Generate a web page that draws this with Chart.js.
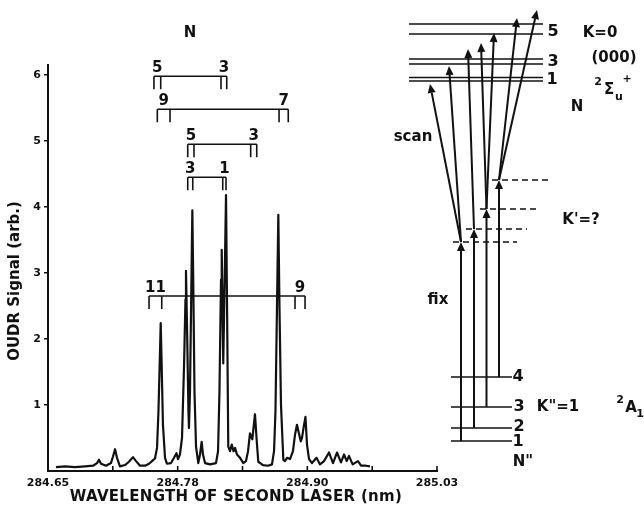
<!DOCTYPE html>
<html>
<head>
<meta charset="utf-8">
<script src="https://cdn.jsdelivr.net/npm/chart.js@4.4.1/dist/chart.umd.min.js"></script>
<style>
  html, body { margin: 0; padding: 0; background: #fff; }
</style>
</head>
<body>
<canvas id="chart" width="644" height="513"></canvas>
<script>
// OUDR spectrum: wavelength (nm) vs signal (arb.)
var wavelength = [
  284.6578, 284.6666, 284.6764, 284.6861, 284.6940, 284.6979, 284.6998, 284.7018, 284.7067, 284.7115,
  284.7135, 284.7155, 284.7174, 284.7203, 284.7252, 284.7291, 284.7330, 284.7360, 284.7399, 284.7448,
  284.7487, 284.7516, 284.7545, 284.7565, 284.7579, 284.7594, 284.7601, 284.7609, 284.7623, 284.7643,
  284.7662, 284.7702, 284.7731, 284.7755, 284.7770, 284.7789, 284.7809, 284.7829, 284.7843, 284.7848,
  284.7858, 284.7872, 284.7877, 284.7887, 284.7902, 284.7910, 284.7918, 284.7931, 284.7946, 284.7968,
  284.7985, 284.8001, 284.8014, 284.8034, 284.8083, 284.8141, 284.8161, 284.8175, 284.8190, 284.8197,
  284.8212, 284.8229, 284.8239, 284.8249, 284.8261, 284.8278, 284.8295, 284.8312, 284.8327, 284.8346,
  284.8376, 284.8408, 284.8434, 284.8454, 284.8473, 284.8496, 284.8522, 284.8537, 284.8554, 284.8600,
  284.8649, 284.8688, 284.8708, 284.8722, 284.8737, 284.8750, 284.8761, 284.8776, 284.8799, 284.8815,
  284.8835, 284.8864, 284.8893, 284.8913, 284.8932, 284.8947, 284.8969, 284.8981, 284.8996, 284.9015,
  284.9030, 284.9050, 284.9079, 284.9123, 284.9157, 284.9196, 284.9245, 284.9284, 284.9323, 284.9362,
  284.9392, 284.9418, 284.9440, 284.9476, 284.9528, 284.9558, 284.9606, 284.9645
];
var signal = [
  0.06, 0.07, 0.06, 0.07, 0.08, 0.12, 0.17, 0.11, 0.08, 0.12,
  0.22, 0.33, 0.20, 0.07, 0.09, 0.14, 0.21, 0.15, 0.08, 0.08,
  0.11, 0.15, 0.19, 0.35, 0.90, 1.80, 2.24, 1.70, 0.70, 0.20,
  0.11, 0.12, 0.20, 0.27, 0.18, 0.25, 0.50, 1.60, 2.60, 3.03,
  2.20, 0.90, 0.65, 1.20, 3.00, 3.95, 3.00, 1.20, 0.37, 0.12,
  0.25, 0.44, 0.25, 0.12, 0.10, 0.12, 0.30, 1.20, 2.90, 3.35,
  1.63, 3.20, 4.18, 2.50, 0.37, 0.30, 0.40, 0.30, 0.35, 0.25,
  0.20, 0.12, 0.15, 0.30, 0.57, 0.48, 0.86, 0.50, 0.14, 0.09,
  0.08, 0.10, 0.30, 0.90, 2.50, 3.88, 2.50, 1.00, 0.17, 0.15,
  0.20, 0.18, 0.30, 0.55, 0.70, 0.60, 0.45, 0.50, 0.65, 0.82,
  0.40, 0.18, 0.12, 0.20, 0.10, 0.15, 0.28, 0.12, 0.28, 0.13,
  0.25, 0.15, 0.23, 0.10, 0.15, 0.08, 0.08, 0.07
];

// axis ticks (the printed labels are rounded)
var xTickValues = [284.65, 284.7133, 284.7767, 284.84, 284.9033, 284.9667, 285.03];
var xTickLabels = ['284.65', '', '284.78', '', '284.90', '', '285.03'];
var yTickValues = [1, 2, 3, 4, 5, 6];

// N assignment combs: signal level of the bar, line positions (nm), end labels
var combLevels = [5.98, 5.48, 4.95, 4.45, 2.65];
var combLines = [
  [284.7535, 284.7601, 284.8190, 284.8246],
  [284.7568, 284.7692, 284.8757, 284.8847],
  [284.7865, 284.7926, 284.8480, 284.8539],
  [284.7865, 284.7914, 284.8207, 284.8239],
  [284.7487, 284.7611, 284.8913, 284.9011]
];
var combLabels = [['5', '3'], ['9', '7'], ['5', '3'], ['3', '1'], ['11', '9']];

var xTitle = 'WAVELENGTH OF SECOND LASER (nm)';
var yTitle = 'OUDR Signal (arb.)';

var INK = '#111';
var FONT = '"DejaVu Sans", sans-serif';

function boldFont(size) { return 'bold ' + size + 'px ' + FONT; }

function seg(ctx, x1, y1, x2, y2) {
  ctx.beginPath(); ctx.moveTo(x1, y1); ctx.lineTo(x2, y2); ctx.stroke();
}

function arrow(ctx, x1, y1, x2, y2) {
  var a = Math.atan2(y2 - y1, x2 - x1);
  var len = 9, half = 4;
  var bx = x2 - len * Math.cos(a), by = y2 - len * Math.sin(a);
  seg(ctx, x1, y1, bx, by);
  ctx.beginPath();
  ctx.moveTo(x2, y2);
  ctx.lineTo(bx + half * Math.sin(a), by - half * Math.cos(a));
  ctx.lineTo(bx - half * Math.sin(a), by + half * Math.cos(a));
  ctx.closePath();
  ctx.fill();
}

// combs, inward ticks, axis titles and the "N" heading over the spectrum
var combPlugin = {
  id: 'combs',
  afterDatasetsDraw: function (chart) {
    var xs = chart.scales.x, ys = chart.scales.y, ctx = chart.ctx;
    ctx.save();
    ctx.strokeStyle = INK; ctx.fillStyle = INK; ctx.lineWidth = 1.6;
    xTickValues.slice(1).forEach(function (v) {
      var px = xs.getPixelForValue(v);
      seg(ctx, px, ys.bottom, px, ys.bottom - 5);
    });
    ctx.font = boldFont(15);
    ctx.textAlign = 'center';
    ctx.textBaseline = 'alphabetic';
    combLevels.forEach(function (lev, i) {
      var py = ys.getPixelForValue(lev);
      var px = combLines[i].map(function (v) { return xs.getPixelForValue(v); });
      seg(ctx, px[0], py, px[3], py);
      px.forEach(function (p) { seg(ctx, p, py, p, py + 13); });
      ctx.fillText(combLabels[i][0], (px[0] + px[1]) / 2, py - 4);
      ctx.fillText(combLabels[i][1], (px[2] + px[3]) / 2, py - 4);
    });
    ctx.textBaseline = 'middle';
    ctx.fillText('N', xs.getPixelForValue(284.7887), ys.getPixelForValue(6.64));

    // axis titles, placed a little off-centre as in the print
    ctx.letterSpacing = '0.3px';
    ctx.fillText(xTitle, xs.left + 188, 497);
    ctx.letterSpacing = '0px';
    ctx.translate(15, 281);
    ctx.rotate(-Math.PI / 2);
    ctx.fillText(yTitle, 0, 0);
    ctx.restore();
  }
};

// energy level scheme drawn to the right of the plot
var diagramPlugin = {
  id: 'levels',
  afterDraw: function (chart) {
    var ctx = chart.ctx;
    ctx.save();
    ctx.strokeStyle = INK; ctx.fillStyle = INK;

    // upper state levels N = 5, 3, 1 (doublets)
    ctx.lineWidth = 1.5;
    [24, 34, 59, 64, 77.5, 81].forEach(function (y) { seg(ctx, 409, y, 543, y); });

    // lower state levels N" = 4, 3, 2, 1
    [377, 407, 428, 441].forEach(function (y) { seg(ctx, 451, y, 512, y); });

    // intermediate K' levels
    ctx.setLineDash([6, 4]);
    [[492, 550, 180], [480, 540, 209], [466, 527, 229], [453, 517, 242]].forEach(function (d) {
      seg(ctx, d[0], d[2], d[1], d[2]);
    });
    ctx.setLineDash([]);

    // fixed first-laser transitions
    ctx.lineWidth = 2;
    arrow(ctx, 461, 441, 461, 242);
    arrow(ctx, 474, 428, 474, 229);
    arrow(ctx, 486.5, 407, 486.5, 209);
    arrow(ctx, 499, 377, 499, 180);

    // scanned second-laser transitions
    arrow(ctx, 461, 242, 430, 84);
    arrow(ctx, 461, 242, 449, 66);
    arrow(ctx, 474, 229, 468, 49);
    arrow(ctx, 486.5, 209, 481, 43);
    arrow(ctx, 486.5, 209, 494, 33);
    arrow(ctx, 499, 180, 517, 18);
    arrow(ctx, 499, 180, 537, 10);

    ctx.textBaseline = 'middle';
    ctx.textAlign = 'center';
    ctx.font = boldFont(16);
    ctx.fillText('5', 553, 32);
    ctx.fillText('3', 553, 62);
    ctx.fillText('1', 552, 80);
    ctx.fillText('4', 518, 377);
    ctx.fillText('3', 519, 407);
    ctx.fillText('2', 519, 427);
    ctx.fillText('1', 518, 442);

    ctx.font = boldFont(15);
    ctx.fillText('K=0', 600, 33);
    ctx.fillText('(000)', 614, 58);
    ctx.fillText('N', 577, 107);
    ctx.fillText("K'=?", 581, 220);
    ctx.fillText('K"=1', 558, 407);
    ctx.fillText('N"', 523, 462);
    ctx.fillText('scan', 413, 137);
    ctx.fillText('fix', 438, 300);

    // term symbols
    ctx.fillText('\u03A3', 609, 90);
    ctx.fillText('A', 631, 408);
    ctx.font = boldFont(11);
    ctx.fillText('2', 598, 82);
    ctx.fillText('u', 619, 97);
    ctx.fillText('+', 627, 79);
    ctx.fillText('2', 620, 400);
    ctx.fillText('1', 640, 414);
    ctx.restore();
  }
};

var points = wavelength.map(function (w, i) { return { x: w, y: signal[i] }; });

new Chart(document.getElementById('chart'), {
  type: 'line',
  data: {
    datasets: [{
      data: points,
      borderColor: INK,
      borderWidth: 2.2,
      borderJoinStyle: 'round',
      pointRadius: 0,
      tension: 0,
      fill: false
    }]
  },
  options: {
    responsive: false,
    animation: false,
    devicePixelRatio: 1,
    layout: { padding: { left: 0, right: 207, top: 65, bottom: 0 } },
    plugins: { legend: { display: false }, tooltip: { enabled: false } },
    scales: {
      x: {
        type: 'linear',
        min: 284.65,
        max: 285.03,
        afterBuildTicks: function (s) { s.ticks = xTickValues.map(function (v) { return { value: v }; }); },
        afterFit: function (s) { s.height = 42; },
        grid: { display: false, drawTicks: false },
        border: { display: true, color: INK, width: 2 },
        ticks: {
          padding: 6, maxRotation: 0, autoSkip: false, color: INK,
          font: { family: FONT, size: 11, weight: 'bold' },
          callback: function (v, i) { return xTickLabels[i]; }
        },
        title: { display: false }
      },
      y: {
        min: 0,
        max: 6.15,
        afterBuildTicks: function (s) { s.ticks = yTickValues.map(function (v) { return { value: v }; }); },
        afterFit: function (s) { s.width = 48; },
        grid: { display: true, drawOnChartArea: false, drawTicks: true, tickLength: 4, color: INK, lineWidth: 1.5 },
        border: { display: true, color: INK, width: 2 },
        ticks: { padding: 3, color: INK, font: { family: FONT, size: 11, weight: 'bold' } },
        title: { display: false }
      }
    }
  },
  plugins: [combPlugin, diagramPlugin]
});
</script>
</body>
</html>
